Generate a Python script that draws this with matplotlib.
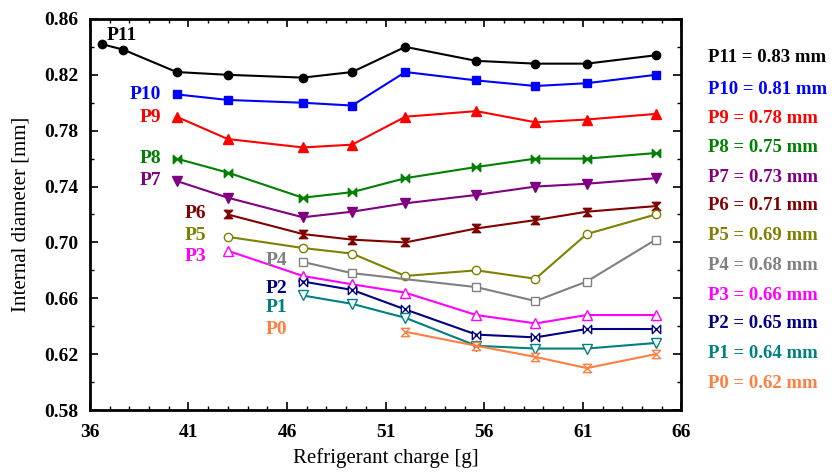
import matplotlib
matplotlib.use("Agg")
import matplotlib.pyplot as plt
from matplotlib.path import Path
import numpy as np

plt.rcParams['font.family'] = ['Liberation Serif', 'DejaVu Serif']

# refrigerant charge [g]
x_all = [36.6, 37.7, 40.4, 43.0, 46.8, 49.3, 52.0, 55.6, 58.6, 61.2, 64.7]

p11 = [0.842, 0.838, 0.822, 0.820, 0.818, 0.822, 0.840, 0.830, 0.828, 0.828, 0.834]
p10 = [0.806, 0.802, 0.800, 0.798, 0.822, 0.816, 0.812, 0.814, 0.820]
p9 = [0.790, 0.774, 0.768, 0.770, 0.790, 0.794, 0.786, 0.788, 0.792]
p8 = [0.760, 0.750, 0.732, 0.736, 0.746, 0.754, 0.760, 0.760, 0.764]
p7 = [0.744, 0.732, 0.718, 0.722, 0.728, 0.734, 0.740, 0.742, 0.746]
p6 = [0.720, 0.706, 0.702, 0.700, 0.710, 0.716, 0.722, 0.726]
p5 = [0.704, 0.696, 0.692, 0.676, 0.680, 0.674, 0.706, 0.720]
p4 = [0.686, 0.678, 0.668, 0.658, 0.672, 0.702]
p3 = [0.694, 0.676, 0.670, 0.664, 0.648, 0.642, 0.648, 0.648]
p2 = [0.672, 0.666, 0.652, 0.634, 0.632, 0.638, 0.638]
p1 = [0.662, 0.656, 0.646, 0.626, 0.624, 0.624, 0.628]
p0 = [0.636, 0.626, 0.618, 0.610, 0.620]

x_p4 = [46.8, 49.3, 55.6, 58.6, 61.2, 64.7]

names = ['P11', 'P10', 'P9', 'P8', 'P7', 'P6', 'P5', 'P4', 'P3', 'P2', 'P1', 'P0']
diameters = [0.83, 0.81, 0.78, 0.75, 0.73, 0.71, 0.69, 0.68, 0.66, 0.65, 0.64, 0.62]

xticks = [36, 41, 46, 51, 56, 61, 66]
yticks = [0.58, 0.62, 0.66, 0.70, 0.74, 0.78, 0.82, 0.86]

# custom bowtie markers
htie = Path([(-1, -1), (-1, 1), (0, 0), (1, 1), (1, -1), (0, 0), (-1, -1)],
            [Path.MOVETO, Path.LINETO, Path.LINETO, Path.LINETO, Path.LINETO, Path.LINETO, Path.CLOSEPOLY])
vtie = Path([(-1, -1), (1, -1), (0, 0), (1, 1), (-1, 1), (0, 0), (-1, -1)],
            [Path.MOVETO, Path.LINETO, Path.LINETO, Path.LINETO, Path.LINETO, Path.LINETO, Path.CLOSEPOLY])

series = [
    # name, x, y, color, marker, filled
    ('P11', x_all, p11, 'black', 'o', True),
    ('P10', x_all[2:], p10, '#0000FF', 's', True),
    ('P9', x_all[2:], p9, '#FF0000', '^', True),
    ('P8', x_all[2:], p8, '#008000', htie, True),
    ('P7', x_all[2:], p7, '#800080', 'v', True),
    ('P6', x_all[3:], p6, '#800000', vtie, True),
    ('P5', x_all[3:], p5, '#808000', 'o', False),
    ('P4', x_p4, p4, '#808080', 's', False),
    ('P3', x_all[3:], p3, '#FF00FF', '^', False),
    ('P2', x_all[4:], p2, '#000080', htie, False),
    ('P1', x_all[4:], p1, '#008080', 'v', False),
    ('P0', x_all[6:], p0, '#FF7F40', vtie, False),
]

fig = plt.figure(figsize=(8.32, 4.74), dpi=100)
ax = fig.add_axes([0.108, 0.135, 0.711, 0.825])

for name, xs, ys, c, m, filled in series:
    if m is htie or m is vtie:
        ms = 6
    elif m in ('o', 's'):
        ms = 6
    else:
        ms = 7
    ax.plot(xs, ys, color=c, lw=1.5, marker=m, markersize=ms,
            markerfacecolor=c if filled else 'white', markeredgecolor=c,
            markeredgewidth=1.0)

# labels inside plot
inner = [
    ('P11', 37.6, 0.8485, 'center', 'black'),
    ('P10', 39.6, 0.806, 'right', '#0000FF'),
    ('P9', 39.6, 0.7895, 'right', '#FF0000'),
    ('P8', 39.6, 0.760, 'right', '#008000'),
    ('P7', 39.6, 0.744, 'right', '#800080'),
    ('P6', 41.9, 0.7205, 'right', '#800000'),
    ('P5', 41.9, 0.705, 'right', '#808000'),
    ('P3', 41.9, 0.690, 'right', '#FF00FF'),
    ('P4', 46.0, 0.687, 'right', '#808080'),
    ('P2', 46.0, 0.667, 'right', '#000080'),
    ('P1', 46.0, 0.6535, 'right', '#008080'),
    ('P0', 46.0, 0.638, 'right', '#FF7F40'),
]
for t, tx, ty, ha, c in inner:
    ax.text(tx, ty, t, color=c, fontsize=14, fontweight='bold', ha=ha, va='center')

# right side legend text
colors = [s[3] for s in series]
legend_y = [57, 89, 118, 148, 177, 206, 236, 265, 295, 324, 354, 384]
for name, d, c, py in zip(names, diameters, colors, legend_y):
    fig.text(708 / 832, 1 - py / 474, f'{name} = {d:.2f} mm', color=c,
             fontsize=13.5, fontweight='bold', ha='left', va='center')

ax.set_xlim(36, 66)
ax.set_ylim(0.58, 0.86)
ax.set_xticks(xticks)
ax.set_xticks(np.arange(36, 67, 1), minor=True)
ax.set_yticks(yticks)
ax.set_yticks(np.arange(0.58, 0.861, 0.02), minor=True)
ax.set_xticklabels([str(v) for v in xticks])
ax.set_yticklabels([f'{v:.2f}' for v in yticks])
ax.tick_params(which='both', direction='in', top=True, right=True)
ax.tick_params(which='major', length=6, width=1.2, labelsize=14, pad=8)
ax.tick_params(axis='x', which='major', pad=10)
ax.tick_params(which='minor', length=3, width=1.0)
for lab in ax.get_xticklabels() + ax.get_yticklabels():
    lab.set_fontweight('bold')
for sp in ax.spines.values():
    sp.set_linewidth(2)

ax.set_xlabel('Refrigerant charge [g]', fontsize=15, labelpad=5)
ax.set_ylabel('Internal diameter [mm]', fontsize=15, labelpad=10)

fig.savefig('out.png', dpi=100)
